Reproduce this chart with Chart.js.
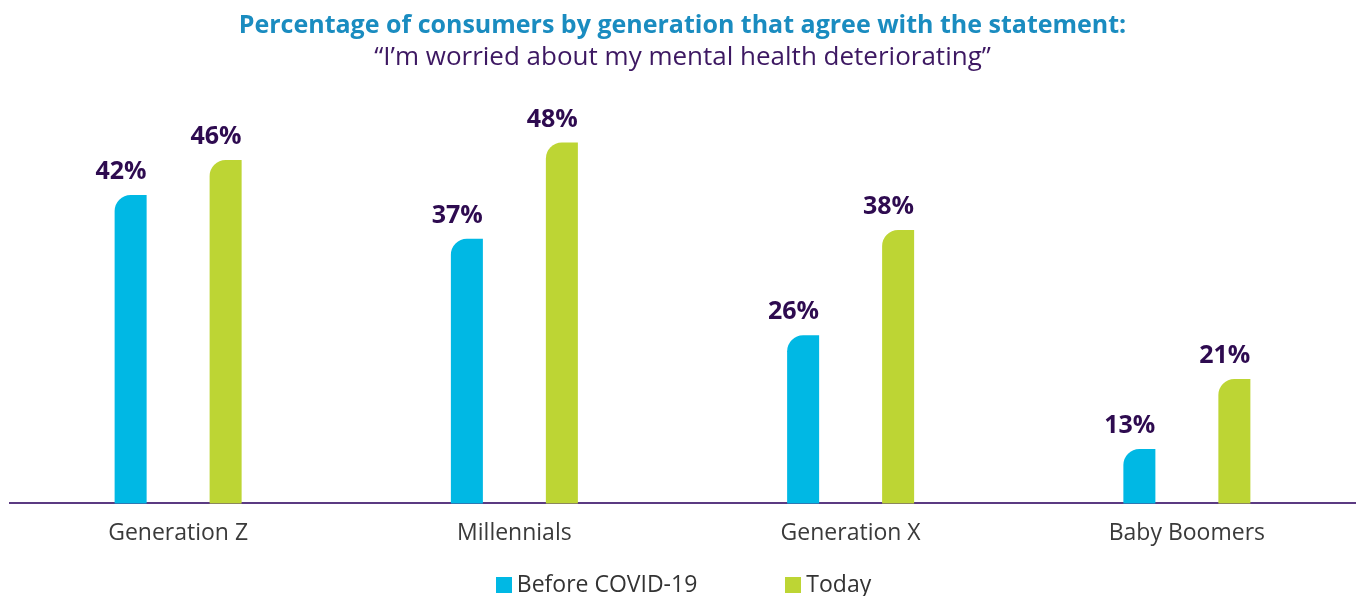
<!DOCTYPE html>
<html>
<head>
<meta charset="utf-8">
<script src="https://cdn.jsdelivr.net/npm/chart.js@4.4.0/dist/chart.umd.min.js"></script>
<style>
  html, body { margin: 0; padding: 0; background: #fff; }
  #wrap { position: relative; width: 1359px; height: 596px; }
  #legend { position: absolute; left: 4px; top: 567px; width: 1359px; text-align: center;
            font-family: "Open Sans", sans-serif; font-size: 23px; color: #333; }
  #legend span.item { display: inline-block; margin: 0 44px; }
  #legend span.box { display: inline-block; width: 16px; height: 16px; margin-right: 5px; vertical-align: -1px; }
</style>
</head>
<body>
<div id="wrap">
  <canvas id="gen-canvas" width="1359" height="596"></canvas>
  <div id="legend"></div>
</div>
<script>
let categories = ['Generation Z', 'Millennials', 'Generation X', 'Baby Boomers'];
let before_covid = [42, 37, 26, 13];
let today        = [46, 48, 38, 21];
let series_names = ['Before COVID-19', 'Today'];
let colors       = ['#00b8e4', '#bdd534'];

// value labels above bars, right aligned to the bar edge
let valueLabels = {
  id: 'valueLabels',
  afterDatasetsDraw(chart) {
    let ctx = chart.ctx;
    ctx.save();
    ctx.font = 'bold 25px "Open Sans", sans-serif';
    ctx.fillStyle = '#2e0b50';
    ctx.textAlign = 'right';
    ctx.textBaseline = 'alphabetic';
    chart.data.datasets.forEach((ds, i) => {
      chart.getDatasetMeta(i).data.forEach((bar, j) => {
        ctx.fillText(ds.data[j] + '%', bar.x + bar.width / 2, bar.y - 16);
      });
    });
    ctx.restore();
  }
};

let ctx = document.getElementById('gen-canvas').getContext('2d');
window.myBar = new Chart(ctx, {
  type: 'bar',
  data: {
    labels: categories,
    datasets: [
      { label: series_names[0], data: before_covid, backgroundColor: colors[0],
        borderRadius: { topLeft: 20 }, borderSkipped: false },
      { label: series_names[1], data: today, backgroundColor: colors[1],
        borderRadius: { topLeft: 20 }, borderSkipped: false }
    ]
  },
  options: {
    responsive: false,
    animation: false,
    categoryPercentage: 0.565,
    barPercentage: 0.337,
    layout: { padding: { left: 10, right: 4, top: 11, bottom: 33 } },
    plugins: {
      legend: { display: false },
      tooltip: { enabled: false },
      title: {
        display: true,
        text: 'Percentage of consumers by generation that agree with the statement:',
        color: '#1a8cc0',
        font: { family: '"Open Sans", sans-serif', size: 25, weight: 'bold' },
        padding: { top: 0, bottom: 1 }
      },
      subtitle: {
        display: true,
        text: '\u201cI\u2019m worried about my mental health deteriorating\u201d',
        color: '#3d1862',
        font: { family: '"Open Sans", sans-serif', size: 26 },
        padding: { top: 0, bottom: 8 }
      }
    },
    scales: {
      x: {
        grid: { display: false, drawTicks: false },
        border: { display: true, color: '#5b3a82', width: 2 },
        ticks: { color: '#3a3a3a', padding: 16,
                 font: { family: '"Open Sans", sans-serif', size: 23 } }
      },
      y: {
        display: false,
        min: 6.8,
        max: 55
      }
    }
  },
  plugins: [valueLabels]
});

// legend built from the chart's datasets
let legendHtml = '';
myBar.data.datasets.forEach(ds => {
  legendHtml += '<span class="item"><span class="box" style="background:' + ds.backgroundColor +
                '"></span>' + ds.label + '</span>';
});
document.getElementById('legend').innerHTML = legendHtml;
</script>
</body>
</html>
